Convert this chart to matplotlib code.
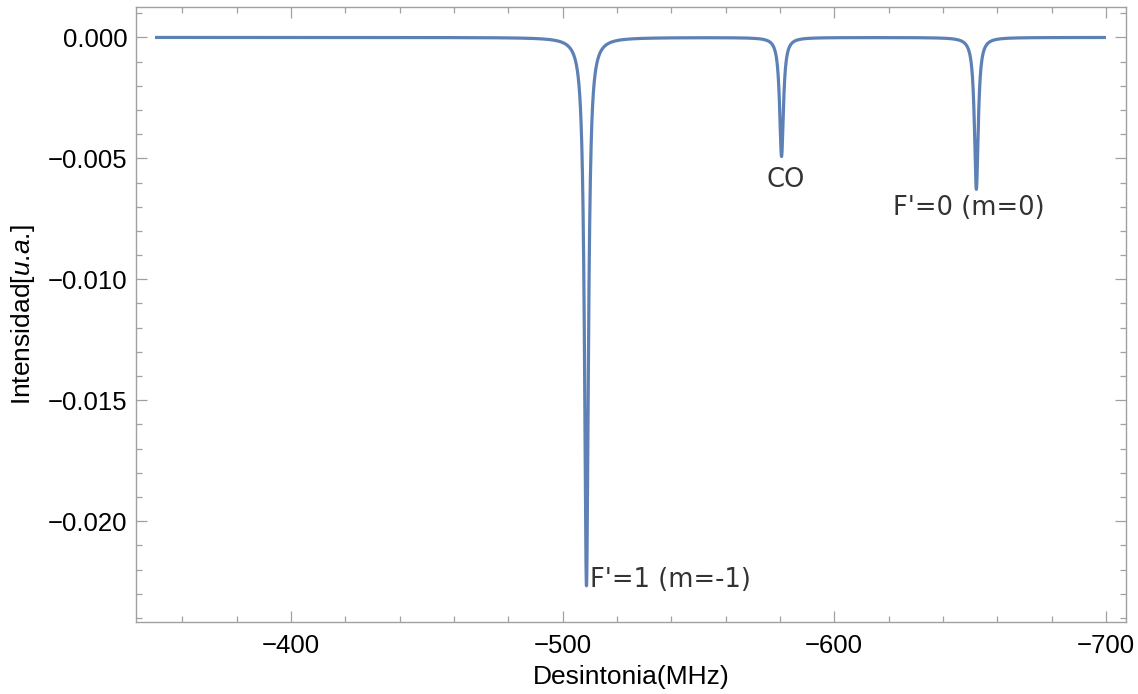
#!/usr/bin/env python3
import numpy as np
import matplotlib
matplotlib.use("Agg")
import matplotlib.pyplot as plt
from matplotlib.ticker import MultipleLocator, FuncFormatter

# Peak parameters (Lorentzian absorption dips)
peak_centers = [-508.8, -580.6, -652.3]      # MHz
peak_depths = [0.02267, 0.00492, 0.00628]    # u.a.
peak_hwhm = [0.85, 0.85, 0.85]               # MHz
peak_labels = ["F'=1 (m=-1)", "CO", "F'=0 (m=0)"]

x_start, x_end = -350, -700

plt.rcParams['mathtext.fontset'] = 'custom'
plt.rcParams['mathtext.it'] = 'Liberation Sans:italic'
plt.rcParams['mathtext.rm'] = 'Liberation Sans'

x = np.linspace(x_start, x_end, 20000)
y = np.zeros_like(x)
for c, a, g in zip(peak_centers, peak_depths, peak_hwhm):
    y -= a * g**2 / ((x - c)**2 + g**2)


def minus_fmt(fmt):
    def f(v, pos):
        s = fmt % v
        if s.startswith('-'):
            if float(s) == 0:
                return s[1:]
            return '\u2212' + s[1:]
        return s
    return FuncFormatter(f)


fig = plt.figure(figsize=(11.38, 6.94), dpi=100)
ax = fig.add_axes([0.1195, 0.104, 0.8700, 0.886])
ax.plot(x, y, color='#5E81B5', lw=2.3, solid_capstyle='butt')

ax.set_xlim(-343.0, -707.4)
ax.set_ylim(-0.02416, 0.00126)

ax.xaxis.set_major_locator(MultipleLocator(100))
ax.xaxis.set_minor_locator(MultipleLocator(20))
ax.yaxis.set_major_locator(MultipleLocator(0.005))
ax.yaxis.set_minor_locator(MultipleLocator(0.001))
ax.yaxis.set_major_formatter(minus_fmt('%.3f'))
ax.xaxis.set_major_formatter(minus_fmt('%d'))

frame_col = '#a0a0a0'
for sp in ax.spines.values():
    sp.set_color(frame_col)
    sp.set_linewidth(1.0)
ax.tick_params(which='both', direction='in', top=True, right=True,
               color=frame_col, width=0.9, labelsize=18.5,
               labelfontfamily='Liberation Sans')
ax.tick_params(which='major', length=8)
ax.tick_params(which='minor', length=4.5)
ax.tick_params(axis='x', pad=9)
ax.tick_params(axis='y', pad=6)

ax.set_xlabel('Desintonia(MHz)', fontsize=19, family='Liberation Sans', labelpad=5)
ax.set_ylabel(r'Intensidad[$\it{u}$.$\it{a}$.]', fontsize=19, family='Liberation Sans',
              labelpad=8)

txt = dict(fontsize=18.5, color='#333333', family='DejaVu Sans')
ax.annotate(peak_labels[0], (peak_centers[0], -peak_depths[0]), xytext=(4, 6),
            textcoords='offset pixels', ha='left', va='center', **txt)
ax.annotate(peak_labels[1], (peak_centers[1], -peak_depths[1]), xytext=(4, -24),
            textcoords='offset pixels', ha='center', va='center', **txt)
ax.annotate(peak_labels[2], (peak_centers[2], -peak_depths[2]), xytext=(-8, -19),
            textcoords='offset pixels', ha='center', va='center', **txt)

fig.savefig('out.png', dpi=100)
